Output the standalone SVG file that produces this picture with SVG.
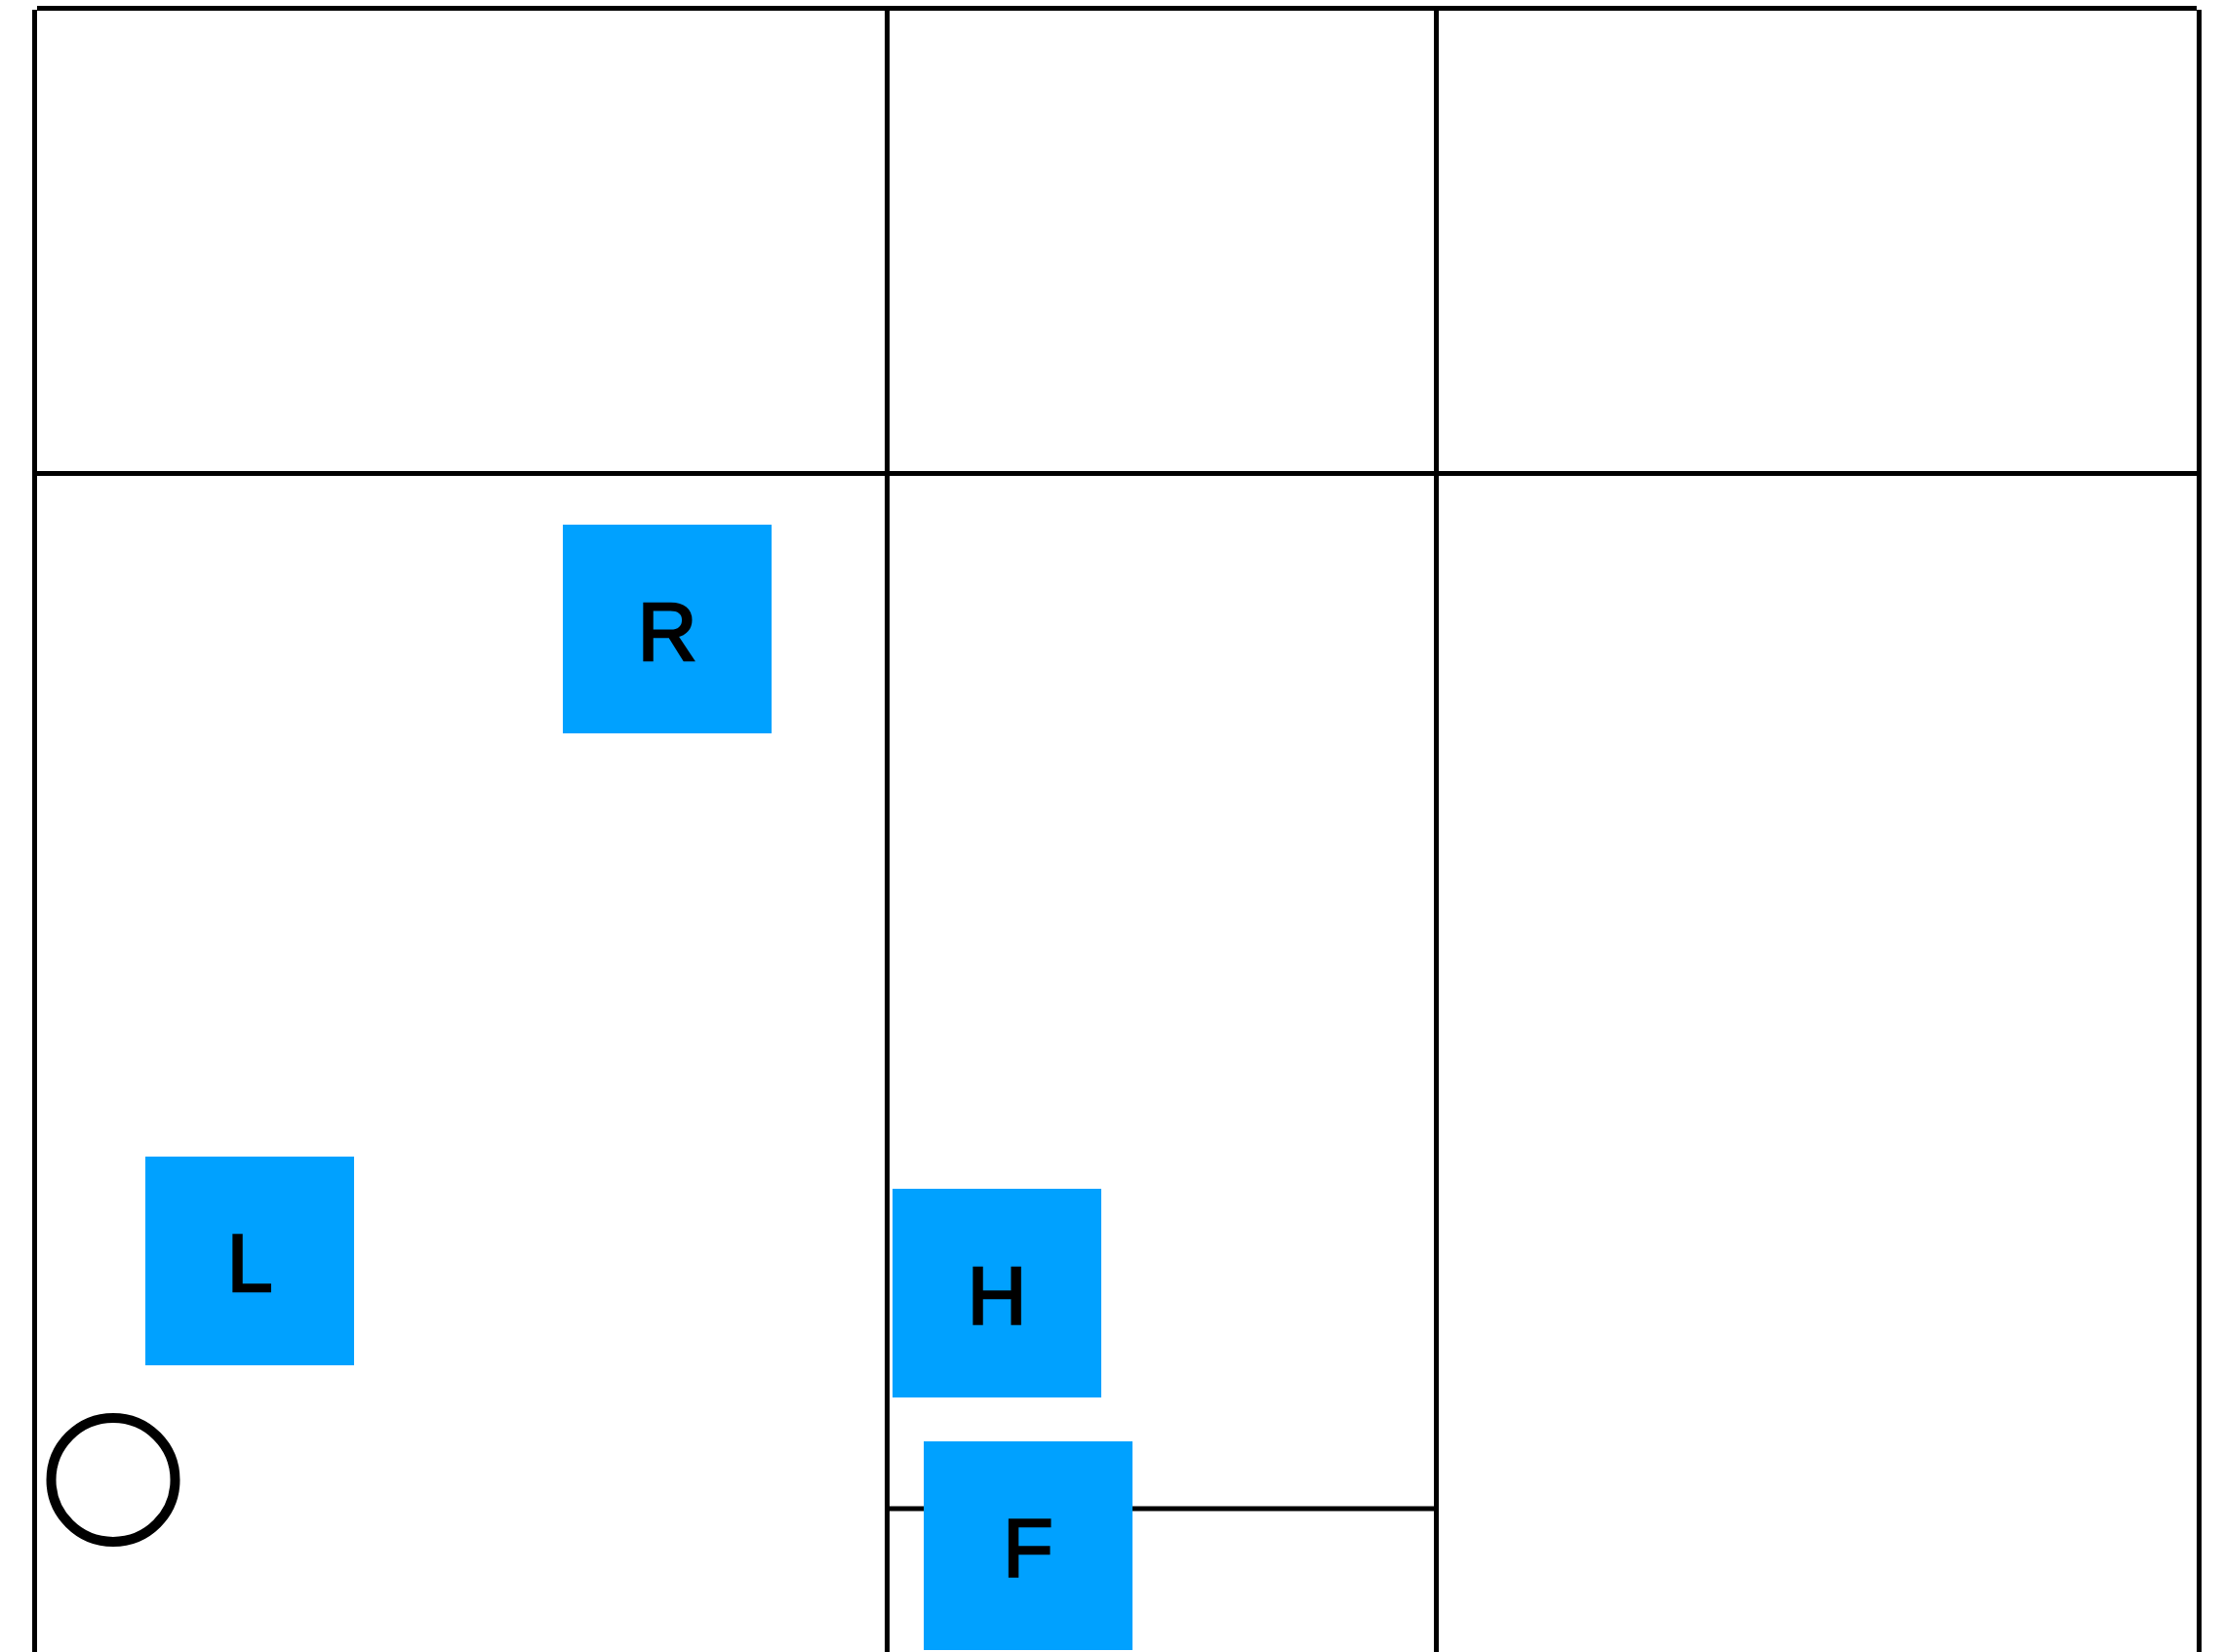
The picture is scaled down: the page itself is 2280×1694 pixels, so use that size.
<svg xmlns="http://www.w3.org/2000/svg" width="2280" height="1694" viewBox="0 0 2280 1694">
<style>
.ln{stroke:#000;stroke-width:5;fill:none}
.box{fill:#00A1FF}
.lbl{font-family:"Liberation Sans",Arial,Helvetica,sans-serif;font-size:84px;fill:#000;stroke:#000;stroke-width:2.6px;text-anchor:middle}
</style>
<rect x="0" y="0" width="2280" height="1694" fill="#fff"/>
<g id="grid">
<line class="ln" x1="38" y1="8.5" x2="2252" y2="8.5"/>
<line class="ln" x1="35.5" y1="10" x2="35.5" y2="1694"/>
<line class="ln" x1="2254.5" y1="10" x2="2254.5" y2="1694"/>
<line class="ln" x1="909.5" y1="10" x2="909.5" y2="1694"/>
<line class="ln" x1="1472.5" y1="10" x2="1472.5" y2="1694"/>
<line class="ln" x1="38" y1="485.5" x2="2252" y2="485.5"/>
<line class="ln" x1="912" y1="1547" x2="1470" y2="1547"/>
</g>
<g id="connectors"></g>
<g id="node-R"><rect class="box" x="577" y="538" width="214" height="214"/><text class="lbl" x="684" y="677">R</text></g>
<g id="node-L"><rect class="box" x="149" y="1186" width="214" height="214"/><text class="lbl" x="256" y="1324">L</text></g>
<g id="node-H"><rect class="box" x="915" y="1219" width="214" height="214"/><text class="lbl" x="1022" y="1358">H</text></g>
<g id="node-F"><rect class="box" x="947" y="1478" width="214" height="214"/><text class="lbl" x="1054" y="1616">F</text></g>
<g id="node-circle"><circle cx="116" cy="1517.5" r="63.5" fill="none" stroke="#000" stroke-width="10"/></g>
</svg>
